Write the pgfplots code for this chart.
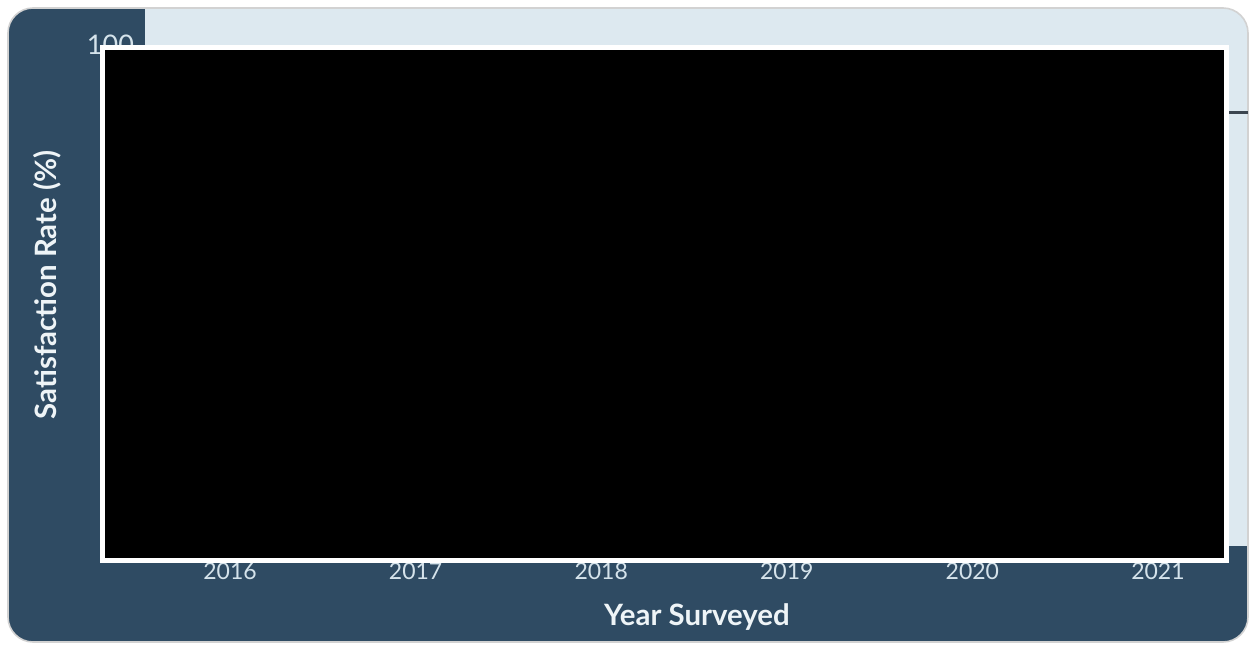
\documentclass[border=0pt]{standalone}
\usepackage{fontspec}
\setmainfont{Lato}
\usepackage{pgfplots}
\pgfplotsset{compat=1.18}
\definecolor{darkbg}{HTML}{2F4B63}
\definecolor{lightbg}{HTML}{DDE9F0}
\definecolor{ticktxt}{HTML}{D5E3EB}
\definecolor{labeltxt}{HTML}{EEF4F7}
\definecolor{refline}{HTML}{3C4650}
\begin{document}
\begin{tikzpicture}
\begin{scope}[x=0.5pt,y=0.5pt]
\path (0,0) rectangle (1249,644);
\begin{scope}
\clip[rounded corners=12.5pt] (8,2) rectangle (1248,636);
\fill[darkbg] (0,0) rectangle (1249,644);
\fill[lightbg] (145,98) rectangle (1249,644);
\end{scope}
\draw[gray!35, line width=0.8pt, rounded corners=12.5pt] (8,2) rectangle (1248,636);
\end{scope}
\begin{axis}[
  at={(72.5pt,49pt)}, anchor=south west,
  scale only axis, width=551.5pt, height=269pt,
  xmin=2015.542, xmax=2021.485, ymin=0, ymax=107.8,
  axis line style={draw=none}, tick style={draw=none},
  xtick={2016,2017,2018,2019,2020,2021},
  ytick={0,20,40,60,80,100},
  /pgf/number format/assume math mode=true,
  /pgf/number format/1000 sep={},
  x tick label style={font=\fontsize{11.5}{13}\selectfont, text=ticktxt, yshift=-5pt},
  y tick label style={font=\fontsize{13.5}{15}\selectfont, text=ticktxt, xshift=-2pt, yshift=1pt},
]
\addplot[refline, line width=1.5pt] coordinates {(2015.542,86.9) (2021.485,86.9)};
\end{axis}
\begin{scope}[x=0.5pt,y=0.5pt]
\node[rotate=90, text=labeltxt, font=\bfseries\fontsize{14.7}{17}\selectfont] at (47,359) {Satisfaction Rate (\%)};
\node[text=labeltxt, font=\bfseries\fontsize{14.7}{17}\selectfont] at (697,27) {Year Surveyed};
\draw[white, line width=2.5pt, fill=black] (102.5,83.5) rectangle (1226.5,596.5);
\end{scope}
\end{tikzpicture}
\end{document}
